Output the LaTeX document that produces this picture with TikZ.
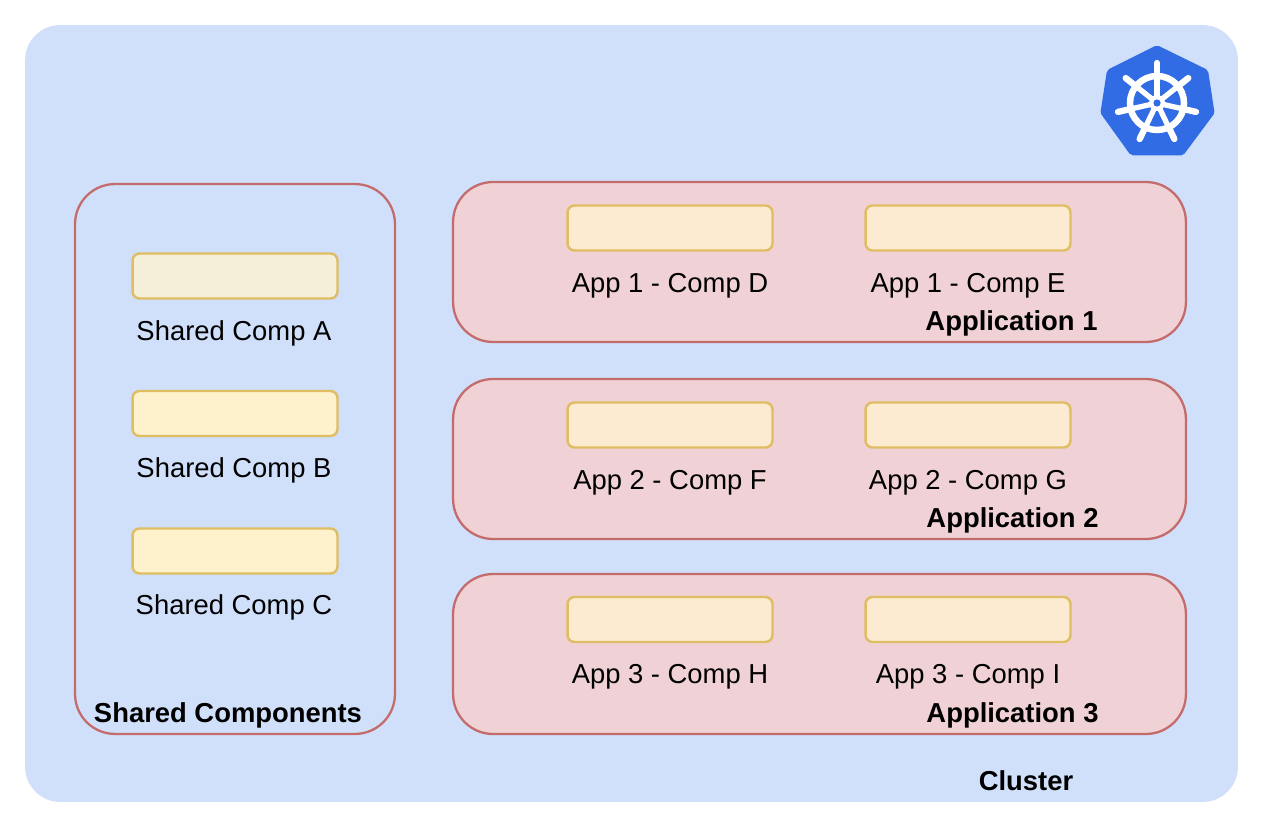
\documentclass[tikz,border=0pt]{standalone}
\usepackage{fontspec}
\setmainfont{Liberation Sans}
\definecolor{clusterfill}{HTML}{D0E0FA}
\definecolor{groupfill}{HTML}{F0D2D6}
\definecolor{groupline}{HTML}{C46C6C}
\definecolor{compline}{HTML}{DFBD62}
\definecolor{sharedfill}{HTML}{FEF2CD}
\definecolor{sharedfirst}{HTML}{F5EED9}
\definecolor{appfill}{HTML}{FCEBD0}
\definecolor{helmblue}{HTML}{326CE5}
\tikzset{
    cluster/.style={fill=clusterfill, rounded corners=0.7cm, minimum width=24.26cm, minimum height=15.54cm, inner sep=0pt},
    group/.style={draw=groupline, line width=1.3pt, rounded corners=0.8cm, inner sep=0pt},
    comp/.style={draw=compline, line width=1.4pt, rounded corners=0.14cm, minimum width=4.1cm, minimum height=0.9cm, inner sep=0pt},
    lbl/.style={font=\fontsize{15.6}{18}\selectfont, inner sep=0pt},
    title/.style={font=\fontsize{15.6}{18}\selectfont\bfseries, inner sep=0pt}
}

\begin{document}
\begin{tikzpicture}[x=0.02cm, y=-0.02cm]
    \useasboundingbox (0,0) rectangle (1265,831);

    % cluster
    \node[cluster] (cluster) at (631.5,413.5) {};
    \node[title] (clusterTitle) at (1026,781) {Cluster};

    % helm logo
    \coordinate (H) at (1157,103);
    \fill[helmblue, draw=helmblue, line width=5pt, line join=round]
        (1157,50) -- (1204,73) -- (1210,112) -- (1181,151) -- (1133,151) -- (1105,112) -- (1111,73) -- cycle;
    \draw[white, line width=3.7pt] (H) circle (27);
    \foreach \a in {90,38.57,-12.86,-64.29,-115.71,-167.14,141.43} {
        \draw[white, line width=3pt] (H) -- ++(\a:-30);
        \draw[white, line width=3.6pt, line cap=round] (H) ++(\a:-25) -- ++(\a:-15);
    }
    \fill[white] (H) circle (8);
    \fill[helmblue] (H) circle (3.6);

    % shared components
    \node[group, fill=clusterfill, minimum width=6.4cm, minimum height=11cm] (shared) at (235,459) {};
    \node[comp, fill=sharedfirst] (compA) at (235,276) {};
    \node[comp, fill=sharedfill] (compB) at (235,413.5) {};
    \node[comp, fill=sharedfill] (compC) at (235,551) {};
    \node[lbl] (lblA) at (234,333) {Shared Comp A};
    \node[lbl] (lblB) at (234,470) {Shared Comp B};
    \node[lbl] (lblC) at (234,607.5) {Shared Comp C};
    \node[title] (sharedTitle) at (228,715) {Shared Components};

    % application 1
    \node[group, fill=groupfill, minimum width=14.66cm, minimum height=3.2cm] (app1) at (819.5,262) {};
    \node[comp, fill=appfill] (compD) at (670,228) {};
    \node[comp, fill=appfill] (compE) at (968,228) {};
    \node[lbl] (lblD) at (670,285.5) {App 1 - Comp D};
    \node[lbl] (lblE) at (968,285.5) {App 1 - Comp E};
    \node[title] (app1Title) at (1011.5,323.5) {Application 1};

    % application 2
    \node[group, fill=groupfill, minimum width=14.66cm, minimum height=3.2cm] (app2) at (819.5,459) {};
    \node[comp, fill=appfill] (compF) at (670,425) {};
    \node[comp, fill=appfill] (compG) at (968,425) {};
    \node[lbl] (lblF) at (670,482.5) {App 2 - Comp F};
    \node[lbl] (lblG) at (968,482.5) {App 2 - Comp G};
    \node[title] (app2Title) at (1012.5,520.5) {Application 2};

    % application 3
    \node[group, fill=groupfill, minimum width=14.66cm, minimum height=3.2cm] (app3) at (819.5,654) {};
    \node[comp, fill=appfill] (compH) at (670,619.5) {};
    \node[comp, fill=appfill] (compI) at (968,619.5) {};
    \node[lbl] (lblH) at (670,676.5) {App 3 - Comp H};
    \node[lbl] (lblI) at (968,676.5) {App 3 - Comp I};
    \node[title] (app3Title) at (1012.5,715.5) {Application 3};
\end{tikzpicture}
\end{document}
